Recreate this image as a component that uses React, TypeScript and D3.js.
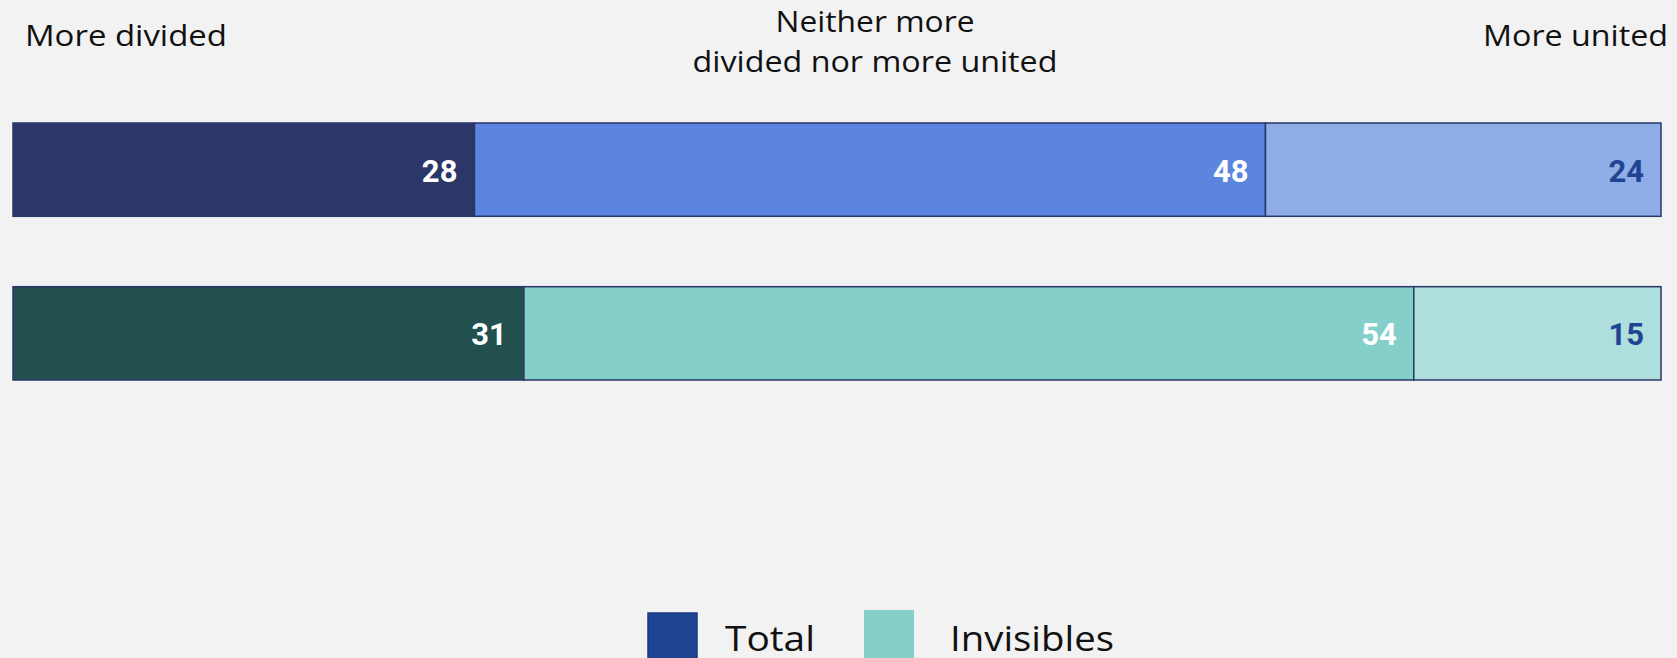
import React from "react";
import * as d3 from "d3";

const categories = ["More divided", "Neither more divided nor more united", "More united"];
const series = ["Total", "Invisibles"];
const totalValues = [28, 48, 24];
const invisiblesValues = [31, 54, 15];
const totalColors = ["#2b3669", "#5b85df", "#8fade7"];
const invisiblesColors = ["#21504f", "#85cfca", "#aedfdc"];
const legendColors = ["#1f4493", "#85cfca"];
const labelColors = ["#ffffff", "#ffffff", "#1f4493"];

const W = 1677;
const H = 658;

export default function App() {
  const x = d3.scaleLinear().domain([0, 100]).range([13, 1661]);
  const y = d3.scaleBand().domain(series).range([123, 380]).paddingInner(0.43);
  const rows = [
    { name: series[0], values: totalValues, colors: totalColors },
    { name: series[1], values: invisiblesValues, colors: invisiblesColors },
  ];
  const font = "'Open Sans', Lato, sans-serif";
  return (
    <svg width={W} height={H} style={{ position: "absolute", left: 0, top: 0, background: "#f2f2f2" }}>
      <rect x={0} y={0} width={W} height={H} fill="#f2f2f2" />
      <text x={25} y={46} fontFamily={font} fontSize={30} fill="#111" textLength={202} lengthAdjust="spacingAndGlyphs">{categories[0]}</text>
      <text x={875} y={32} fontFamily={font} fontSize={30} fill="#111" textAnchor="middle" textLength={199} lengthAdjust="spacingAndGlyphs">Neither more</text>
      <text x={875} y={72} fontFamily={font} fontSize={30} fill="#111" textAnchor="middle" textLength={365} lengthAdjust="spacingAndGlyphs">divided nor more united</text>
      <text x={1668} y={46} fontFamily={font} fontSize={30} fill="#111" textAnchor="end" textLength={185} lengthAdjust="spacingAndGlyphs">{categories[2]}</text>
      {rows.map((row) => {
        const stack = d3.cumsum(row.values);
        return (
          <g key={row.name}>
            {row.values.map((v, i) => {
              const x0 = x(i === 0 ? 0 : stack[i - 1]);
              const x1 = x(stack[i]);
              const yy = y(row.name)!;
              const bh = y.bandwidth();
              return (
                <g key={i}>
                  <rect x={x0} y={yy} width={x1 - x0} height={bh} fill={row.colors[i]} stroke="#2b3669" strokeWidth={1.5} />
                  <text x={x1 - 17} y={yy + bh / 2 + 12} textAnchor="end" fontFamily="Roboto, sans-serif" fontWeight={700} fontSize={31} fill={labelColors[i]}>{v}</text>
                </g>
              );
            })}
          </g>
        );
      })}
      <rect x={648} y={613} width={49} height={50} fill={legendColors[0]} stroke="#1a3a80" strokeWidth={1.5} />
      <text x={725} y={651} fontFamily={font} fontSize={34} fill="#111" textLength={90} lengthAdjust="spacingAndGlyphs">{series[0]}</text>
      <rect x={864} y={610} width={50} height={52} fill={legendColors[1]} />
      <text x={950} y={651} fontFamily={font} fontSize={34} fill="#111" textLength={164} lengthAdjust="spacingAndGlyphs">{series[1]}</text>
    </svg>
  );
}
